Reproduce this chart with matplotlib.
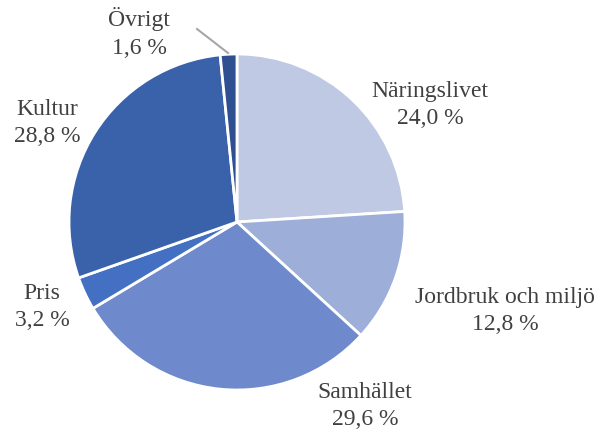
"""Fördelning per område - cirkeldiagram"""

import matplotlib.pyplot as plt

# Data
categories = ['Näringslivet', 'Jordbruk och miljö', 'Samhället', 'Pris', 'Kultur', 'Övrigt']
shares = [24.0, 12.8, 29.6, 3.2, 28.8, 1.6]
colors = ['#BFC9E4', '#9DAED9', '#6E89CC', '#4470C4', '#3A62AA', '#2E5090']

# Label centres in pixels (x, y from top) for a 609x432 canvas
label_px = [(430, 105), (505, 311), (365, 406), (42, 307), (47, 123), (139, 33)]

W, H = 609, 432
cx, cy, r = 237, 222, 168

plt.rcParams['font.family'] = ['Liberation Serif', 'DejaVu Serif']

fig = plt.figure(figsize=(W / 100, H / 100), dpi=100)
ax = fig.add_axes([(cx - r) / W, (H - cy - r) / H, 2 * r / W, 2 * r / H])

ax.pie(shares, colors=colors, startangle=90, counterclock=False, radius=1,
       wedgeprops=dict(edgecolor='white', linewidth=2))
ax.set_xlim(-1, 1)
ax.set_ylim(-1, 1)
ax.set_aspect('equal')
ax.axis('off')

for name, val, (px, py) in zip(categories, shares, label_px):
    x = (px - cx) / r
    y = (cy - py) / r
    txt = f"{name}\n{val:.1f} %".replace('.', ',')
    ax.text(x, y, txt, ha='center', va='center', fontsize=17, color='#404040',
            linespacing=1.4, clip_on=False)

# Leader line for Övrigt
ax.plot([(197 - cx) / r, (228 - cx) / r], [(cy - 29) / r, (cy - 53) / r],
        color='#A6A6A6', linewidth=1.5, clip_on=False)

fig.savefig('out.png', dpi=100)
